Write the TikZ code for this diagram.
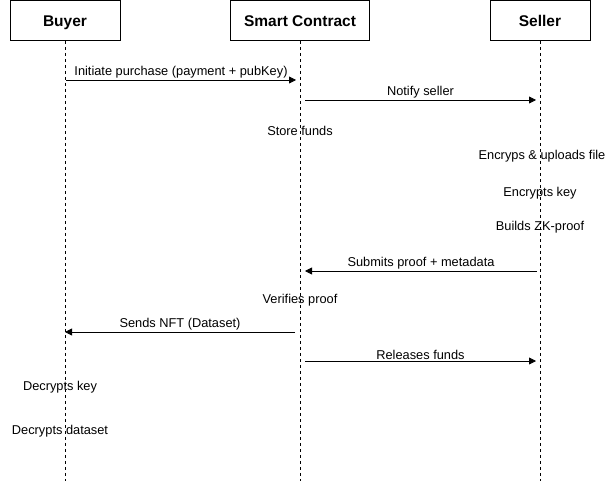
\documentclass[tikz,border=0pt]{standalone}
\usepackage{fontspec}
\setmainfont{Liberation Sans}
\usetikzlibrary{arrows.meta}
\tikzstyle{actor} = [draw, line width=0.8pt, minimum height=40pt, inner sep=0pt, text height=13pt, text depth=1pt, font=\fontsize{15.5}{18}\selectfont\bfseries]
\tikzstyle{lifeline} = [line width=0.8pt, dash pattern=on 3pt off 3pt]
\tikzstyle{msg} = [line width=0.8pt, -{Triangle[length=7pt,width=7pt]}]
\tikzstyle{note} = [inner sep=1pt]

\begin{document}
\begin{tikzpicture}[x=1pt, y=-1pt, font=\fontsize{12.8}{15}\selectfont]
\useasboundingbox (0,0) rectangle (613,481);

\node (buyer) [actor, minimum width=110pt] at (65,20.5) {Buyer};
\node (contract) [actor, minimum width=139pt] at (300,20.5) {Smart Contract};
\node (seller) [actor, minimum width=100pt] at (540,20.5) {Seller};

\coordinate (buyer end) at (65,481);
\coordinate (contract end) at (300,481);
\coordinate (seller end) at (540,481);
\draw [lifeline] (buyer.south) -- (buyer end);
\draw [lifeline] (contract.south) -- (contract end);
\draw [lifeline] (seller.south) -- (seller end);

% messages
\coordinate (purchase from) at (66,80);
\coordinate (purchase to) at (296,80);
\coordinate (notify from) at (305,100);
\coordinate (notify to) at (536,100);
\coordinate (proof from) at (537,271);
\coordinate (proof to) at (305,271);
\coordinate (nft from) at (295,332);
\coordinate (nft to) at (65,332);
\coordinate (release from) at (305,361);
\coordinate (release to) at (536,361);

\draw [msg] (purchase from) -- node [above=0pt, inner sep=1pt] {Initiate purchase (payment + pubKey)} (purchase to);
\draw [msg] (notify from) -- node [above=0pt, inner sep=1pt] {Notify seller} (notify to);
\draw [msg] (proof from) -- node [above=0pt, inner sep=1pt] {Submits proof + metadata} (proof to);
\draw [msg] (nft from) -- node [above=0pt, inner sep=1pt] {Sends NFT (Dataset)} (nft to);
\draw [msg] (release from) -- node [above=0pt, inner sep=1pt] {Releases funds} (release to);

% local steps
\node (store) [note] at (300,131) {Store funds};
\node (upload) [note] at (542,156) {Encryps \& uploads file};
\node (enckey) [note] at (540,193) {Encrypts key};
\node (zkproof) [note] at (540,227) {Builds ZK-proof};
\node (verify) [note] at (300,300) {Verifies proof};
\node (deckey) [note] at (60,387) {Decrypts key};
\node (decdata) [note] at (60,431) {Decrypts dataset};

\end{tikzpicture}
\end{document}
